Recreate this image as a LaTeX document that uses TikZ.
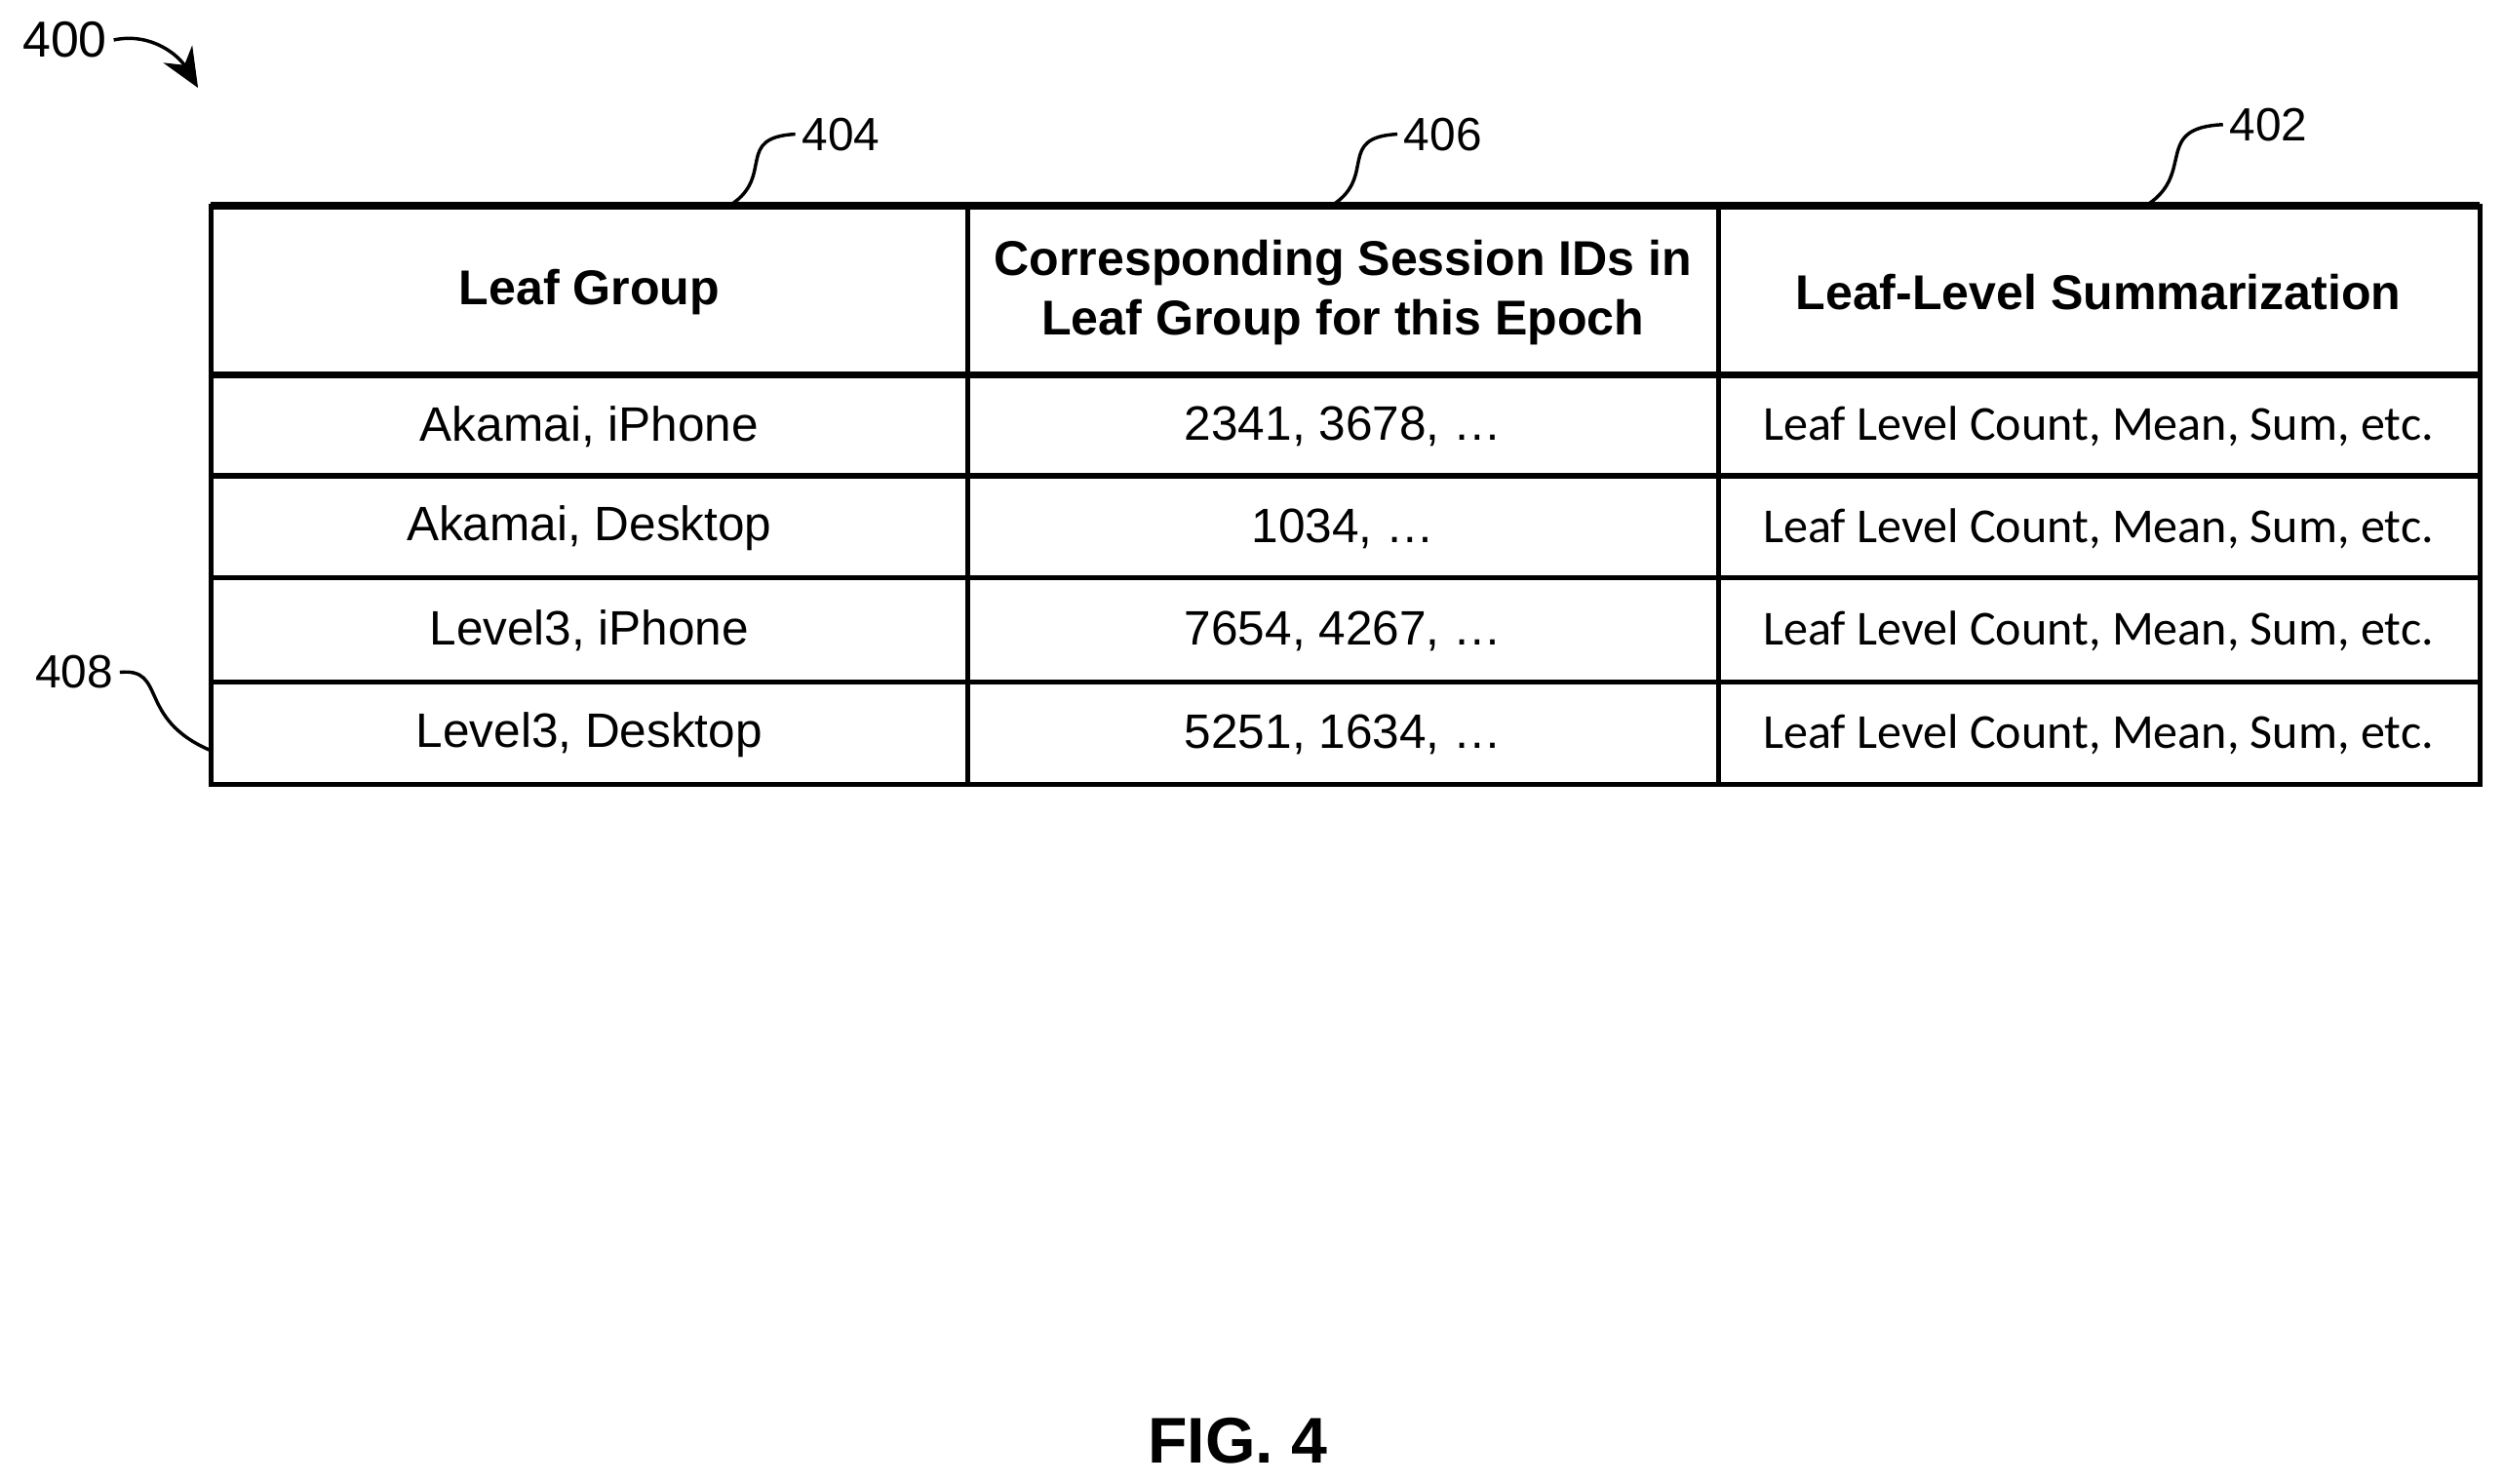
\documentclass[tikz,border=0pt]{standalone}
\usepackage{fontspec}
\setmainfont{Liberation Sans}
\newfontfamily\calib{Carlito}
\usetikzlibrary{arrows.meta}
\begin{document}
\begin{tikzpicture}[x=0.01cm,y=-0.01cm,
  hdr/.style={font=\bfseries\fontsize{8.7}{10.6}\selectfont,align=center},
  cell/.style={font=\fontsize{8.6}{10}\selectfont},
  cellc/.style={font=\calib\fontsize{8.7}{10}\selectfont},
  lbl/.style={font=\fontsize{8.3}{10}\selectfont,inner sep=1pt},
  lead/.style={line width=0.6pt}]
\useasboundingbox (0,0) rectangle (1568,929);
% table
\draw[line width=0.9pt] (132,129) rectangle (1553,491);
\draw[line width=1.4pt] (132,129) -- (1553,129);
\draw[line width=1.2pt] (132,235) -- (1553,235);
\foreach \y in {298,362,427} \draw[line width=0.9pt] (132,\y) -- (1553,\y);
\foreach \x in {606,1076} \draw[line width=0.9pt] (\x,129) -- (\x,491);
% header
\node[hdr] (h1) at (369,183) {Leaf Group};
\node[hdr] (h2) at (841,183) {Corresponding Session IDs in\\Leaf Group for this Epoch};
\node[hdr] (h3) at (1314,183) {Leaf-Level Summarization};
% rows
\node[cell] (a1) at (369,267) {Akamai, iPhone};
\node[cell] (a2) at (369,331) {Akamai, Desktop};
\node[cell] (a3) at (369,395) {Level3, iPhone};
\node[cell] (a4) at (369,460) {Level3, Desktop};
\node[cell] (b1) at (841,267) {2341, 3678, \dots};
\node[cell] (b2) at (841,331) {1034, \dots};
\node[cell] (b3) at (841,395) {7654, 4267, \dots};
\node[cell] (b4) at (841,460) {5251, 1634, \dots};
\foreach \y/\n in {267/1,331/2,395/3,460/4}
  \node[cellc] (c\n) at (1314,\y) {Leaf Level Count, Mean, Sum, etc.};
% labels
\node[lbl,anchor=west] (l404) at (498,84) {404};
\node[lbl,anchor=west] (l406) at (875,84) {406};
\node[lbl,anchor=west] (l402) at (1392,78) {402};
\node[lbl,anchor=east] (l408) at (75,421) {408};
\node[lbl,anchor=west,font=\fontsize{9}{10}\selectfont] (l400) at (10,25) {400};
\coordinate (t404) at (458,128);
\coordinate (t406) at (835,128);
\coordinate (t402) at (1345,128);
\coordinate (t408) at (132,470);
\coordinate (t400) at (124,55);
\draw[lead] (t404) .. controls (485,110) and (460,86) .. (l404.west);
\draw[lead] (t406) .. controls (862,110) and (837,86) .. (l406.west);
\draw[lead] (t402) .. controls (1375,108) and (1348,80) .. (l402.west);
\draw[lead] (l408.east) .. controls (105,418) and (85,450) .. (t408);
\draw[lead,-{Stealth[length=7pt,width=6pt]}] (l400.east) .. controls (95,20) and (112,35) .. (t400);
\node[font=\bfseries\fontsize{11.5}{13}\selectfont] (fig) at (775,902) {FIG. 4};
\end{tikzpicture}
\end{document}
